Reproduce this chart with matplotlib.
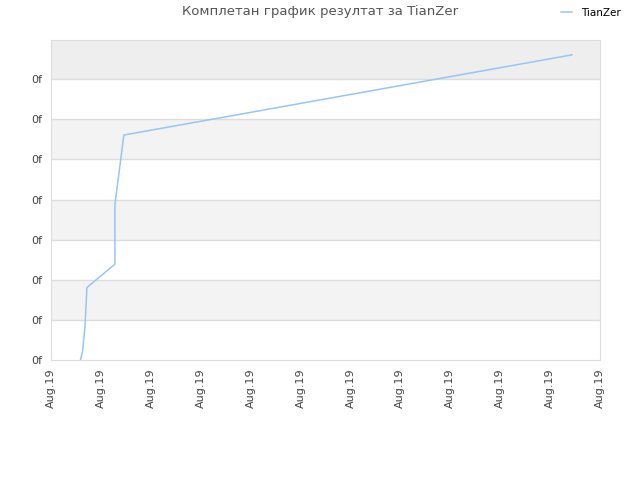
import matplotlib
matplotlib.use("Agg")
import matplotlib.pyplot as plt

# series (x in tick steps, y in grid steps)
x_vals = [0.59, 0.63, 0.68, 0.72, 0.76, 1.28, 1.28, 1.46, 10.44]
scores = [0.0, 0.2, 0.82, 1.80, 1.85, 2.39, 3.87, 5.61, 7.61]
x_ticks = list(range(12))
x_labels = ["Aug.19"] * 12
y_ticks = list(range(8))
y_labels = ["0f"] * 8

fig = plt.figure(figsize=(6.4, 4.8), dpi=100)
ax = fig.add_axes([51 / 640, 120 / 480, 549 / 640, 320 / 480])

# alternating background bands
ax.axhspan(7, 7.98, color="#eeeeee", zorder=0, lw=0)
for lo in (1, 3, 5):
    ax.axhspan(lo, lo + 1, color="#f3f3f3", zorder=0, lw=0)
for yv in y_ticks[1:]:
    ax.axhline(yv, color="#dddddd", lw=1, zorder=1)

ax.plot(x_vals, scores, color="#99c5f2", lw=1.1, label="TianZer", zorder=3)

ax.set_xlim(0, 11)
ax.set_ylim(0, 7.98)
ax.set_xticks(x_ticks)
ax.set_xticklabels(x_labels, rotation=90, fontsize=8, color="#444444")
ax.set_yticks(y_ticks)
ax.set_yticklabels(y_labels, fontsize=8, color="#444444")
ax.tick_params(length=0, pad=6)
for s in ax.spines.values():
    s.set_color("#dddddd")

fig.text(0.5, 0.975, "Комплетан график резултат за TianZer", ha="center", va="center",
         fontsize=9.5, color="#555555")
fig.legend(loc="center right", bbox_to_anchor=(0.985, 0.973), frameon=False,
           fontsize=7.5, handlelength=1.0, handletextpad=0.9)

fig.savefig("out.png", dpi=100)
